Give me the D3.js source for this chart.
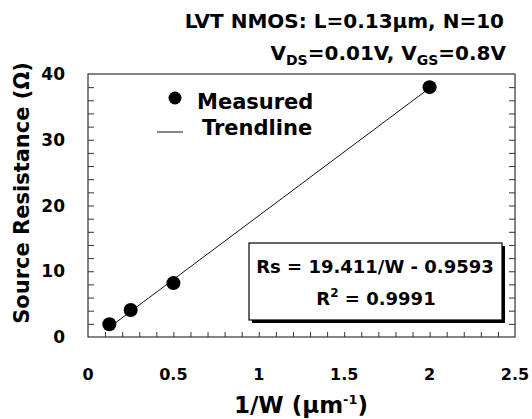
<!DOCTYPE html>
<html><head><meta charset="utf-8">
<script src="https://cdn.jsdelivr.net/npm/d3@7"></script>
<style>body{margin:0;background:#fff}svg{display:block}text{font-family:"DejaVu Sans",sans-serif;font-weight:bold;fill:#000}</style>
</head><body>
<svg id="c" width="532" height="419"></svg>
<script>
const invW = [0.125, 0.25, 0.5, 2.0];
const rs = [1.95, 4.1, 8.2, 38.0];
const slope = 19.411, intercept = -0.9593, r2 = 0.9991;
const xTicks = [0, 0.5, 1, 1.5, 2, 2.5];
const xTickLabels = ["0", "0.5", "1", "1.5", "2", "2.5"];
const yTicks = [0, 10, 20, 30, 40];
const yTickLabels = ["0", "10", "20", "30", "40"];

const svg = d3.select("#c");
const L = 88, R = 515, T = 74, B = 337;
const x = d3.scaleLinear().domain([0, 2.5]).range([L, R]);
const y = d3.scaleLinear().domain([0, 40]).range([B, T]);

// frame
svg.append("rect").attr("x", L).attr("y", T).attr("width", R - L).attr("height", B - T)
  .attr("fill", "none").attr("stroke", "#333").attr("stroke-width", 1.2);

// minor ticks inward
const xMinor = d3.range(1, 25).map(i => i / 10);
const yMinor = d3.range(1, 20).map(i => i * 2);
const xa = d3.axisBottom(x).tickValues(xMinor).tickSize(-5).tickFormat("");
svg.append("g").attr("transform", `translate(0,${B})`).call(xa)
  .call(g => g.select(".domain").remove())
  .selectAll("line").attr("stroke", "#333");
const ya = d3.axisLeft(y).tickValues(yMinor).tickSize(-6).tickFormat("");
svg.append("g").attr("transform", `translate(${L},0)`).call(ya)
  .call(g => g.select(".domain").remove())
  .selectAll("line").attr("stroke", "#333");
const yr = d3.axisRight(y).tickValues(yMinor).tickSize(-6).tickFormat("");
svg.append("g").attr("transform", `translate(${R},0)`).call(yr)
  .call(g => g.select(".domain").remove())
  .selectAll("line").attr("stroke", "#333");

// tick labels
svg.append("g").selectAll("text").data(xTicks).join("text")
  .attr("x", d => x(d)).attr("y", 380).attr("text-anchor", "middle")
  .attr("font-size", 16).text((d, i) => xTickLabels[i]);
svg.append("g").selectAll("text").data(yTicks).join("text")
  .attr("x", 65).attr("y", d => y(d) + 6).attr("text-anchor", "end")
  .attr("font-size", 17).text((d, i) => yTickLabels[i]);

// axis titles
const xt = svg.append("text").attr("x", 301).attr("y", 413).attr("text-anchor", "middle").attr("font-size", 23);
xt.append("tspan").text("1/W (μm");
xt.append("tspan").attr("dy", -9).attr("font-size", 13).text("-1");
xt.append("tspan").attr("dy", 9).text(")");
svg.append("text").attr("transform", "translate(29,193) rotate(-90)").attr("text-anchor", "middle")
  .attr("font-size", 21).text("Source Resistance (Ω)");

// titles
svg.append("text").attr("x", 504).attr("y", 28).attr("text-anchor", "end").attr("font-size", 20)
  .text("LVT NMOS: L=0.13μm, N=10");
const t2 = svg.append("text").attr("x", 506).attr("y", 60).attr("text-anchor", "end").attr("font-size", 20);
t2.append("tspan").text("V");
t2.append("tspan").attr("dy", 5).attr("font-size", 14).text("DS");
t2.append("tspan").attr("dy", -5).text("=0.01V, V");
t2.append("tspan").attr("dy", 5).attr("font-size", 14).text("GS");
t2.append("tspan").attr("dy", -5).text("=0.8V");

// trendline
const x0 = d3.min(invW), x1 = d3.max(invW);
svg.append("line").attr("x1", x(x0)).attr("y1", y(slope * x0 + intercept))
  .attr("x2", x(x1)).attr("y2", y(slope * x1 + intercept)).attr("stroke", "#111").attr("stroke-width", 1);

// points
svg.append("g").selectAll("circle").data(invW).join("circle")
  .attr("cx", d => x(d)).attr("cy", (d, i) => y(rs[i])).attr("r", 7).attr("fill", "#000");

// legend
svg.append("circle").attr("cx", 175).attr("cy", 98).attr("r", 6.5).attr("fill", "#000");
svg.append("text").attr("x", 197).attr("y", 109).attr("font-size", 21).text("Measured");
svg.append("line").attr("x1", 157).attr("x2", 183).attr("y1", 132).attr("y2", 132).attr("stroke", "#111");
svg.append("text").attr("x", 202).attr("y", 135).attr("font-size", 21).text("Trendline");

// equation box with shadow
svg.append("rect").attr("x", 252).attr("y", 246).attr("width", 253).attr("height", 77).attr("fill", "#000");
svg.append("rect").attr("x", 249).attr("y", 243).attr("width", 253).attr("height", 77)
  .attr("fill", "#fff").attr("stroke", "#000").attr("stroke-width", 1.2);
svg.append("text").attr("x", 375).attr("y", 273).attr("text-anchor", "middle").attr("font-size", 18)
  .text(`Rs = ${slope}/W - ${(-intercept).toFixed(4)}`);
const r2t = svg.append("text").attr("x", 376).attr("y", 305).attr("text-anchor", "middle").attr("font-size", 18);
r2t.append("tspan").text("R");
r2t.append("tspan").attr("dy", -8).attr("font-size", 12).text("2");
r2t.append("tspan").attr("dy", 8).text(` = ${r2}`);
</script>
</body></html>
